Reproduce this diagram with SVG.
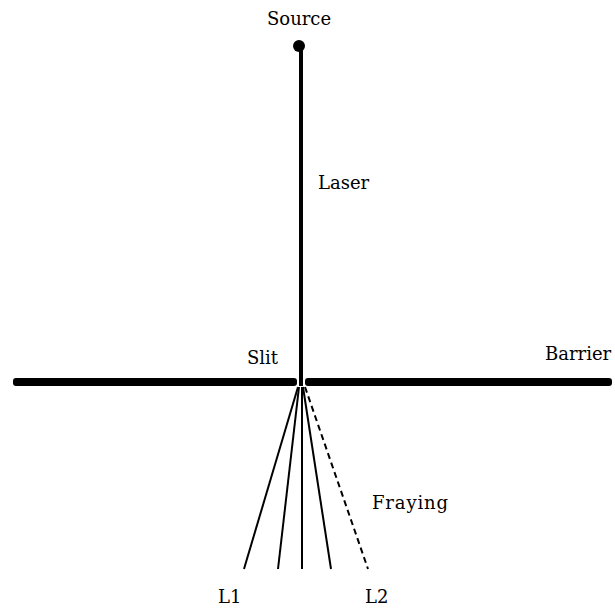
<svg xmlns="http://www.w3.org/2000/svg" width="615" height="609" viewBox="0 0 615 609">
<style>
text{font-family:"DejaVu Serif","Liberation Serif","Times New Roman",serif;font-size:18px;fill:#000}
.ray{stroke:#000;stroke-width:2;fill:none}
</style>
<rect width="615" height="609" fill="#fff"/>
<g id="connectors">
<line x1="301" y1="46" x2="301" y2="386" stroke="#000" stroke-width="4"/>
<line class="ray" x1="298" y1="387" x2="244" y2="569"/>
<line class="ray" x1="299" y1="387" x2="278" y2="569"/>
<line class="ray" x1="302" y1="387" x2="302" y2="569"/>
<line class="ray" x1="303" y1="387" x2="331" y2="569"/>
<line class="ray" x1="305" y1="387" x2="368" y2="569" stroke-dasharray="6,4"/>
</g>
<g id="source"><circle cx="299" cy="46" r="6" fill="#000"/><text x="267" y="25">Source</text></g>
<g id="laser"><text x="318" y="189">Laser</text></g>
<g id="barrier">
<rect x="13" y="378" width="284" height="8" rx="3" fill="#000"/>
<rect x="305" y="378" width="307" height="8" rx="3" fill="#000"/>
<text x="545" y="360">Barrier</text>
</g>
<g id="slit"><text x="247" y="364">Slit</text></g>
<g id="fraying"><text x="372" y="509" textLength="76">Fraying</text></g>
<g id="l1"><text x="218" y="603">L1</text></g>
<g id="l2"><text x="365" y="603">L2</text></g>
</svg>
